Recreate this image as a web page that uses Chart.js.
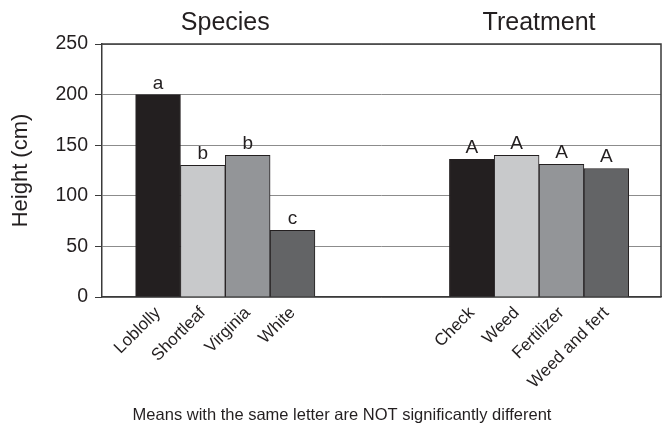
<!DOCTYPE html>
<html><head><meta charset="utf-8">
<script src="https://cdn.jsdelivr.net/npm/chart.js@4/dist/chart.umd.min.js"></script>
<style>html,body{margin:0;padding:0;background:#fff}</style>
</head><body>
<canvas id="c" width="665" height="433"></canvas>
<script>
// ---- data ----
const species = ['Loblolly', 'Shortleaf', 'Virginia', 'White'];
const speciesHeights = [200, 130, 140, 66];
const speciesLetters = ['a', 'b', 'b', 'c'];
const treatments = ['Check', 'Weed', 'Fertilizer', 'Weed and fert'];
const treatmentHeights = [136, 140, 131, 127];
const treatmentLetters = ['A', 'A', 'A', 'A'];
const groupTitles = ['Species', 'Treatment'];
const yTickValues = [0, 50, 100, 150, 200, 250];
const yTitle = 'Height (cm)';
const note = 'Means with the same letter are NOT significantly different';
const barColors = ['#231f20', '#c8c9cb', '#939598', '#636466'];

// ---- layout helpers ----
const GAP_SLOTS = 3;
const FONT = '"Liberation Sans", Arial, Helvetica, sans-serif';
const speciesPos = species.map((_, i) => i);
const treatPos = treatments.map((_, j) => species.length + GAP_SLOTS + j);
const positions = speciesPos.concat(treatPos);
const labels = species.concat(treatments);
const heights = speciesHeights.concat(treatmentHeights);
const letters = speciesLetters.concat(treatmentLetters);
const colors = species.map((_, i) => barColors[i]).concat(treatments.map((_, j) => barColors[j]));
const labelAt = {};
positions.forEach((p, i) => labelAt[p] = labels[i]);

const annot = {
  id: 'annot',
  afterDatasetsDraw(chart) {
    const ctx = chart.ctx;
    const a = chart.chartArea;
    const meta = chart.getDatasetMeta(0);
    ctx.save();
    // frame top + right
    ctx.strokeStyle = '#3a3a3a';
    ctx.lineWidth = 1.5;
    ctx.beginPath();
    ctx.moveTo(a.left, a.top);
    ctx.lineTo(a.right, a.top);
    ctx.lineTo(a.right, a.bottom);
    ctx.stroke();
    // letters
    ctx.fillStyle = '#231f20';
    ctx.font = '19px ' + FONT;
    ctx.textAlign = 'center';
    ctx.textBaseline = 'alphabetic';
    meta.data.forEach((bar, i) => {
      ctx.fillText(letters[i], bar.x, bar.y - 6);
    });
    // group titles
    ctx.font = '25px ' + FONT;
    ctx.textBaseline = 'middle';
    const groups = [[0, species.length], [species.length, labels.length]];
    groups.forEach((g, k) => {
      const xs = meta.data.slice(g[0], g[1]).map(b => b.x);
      const cx = (Math.min(...xs) + Math.max(...xs)) / 2;
      ctx.fillText(groupTitles[k], cx, 23);
    });
    // note
    ctx.font = '16.5px ' + FONT;
    ctx.fillText(note, 342, 415);
    ctx.restore();
  }
};

new Chart(document.getElementById('c'), {
  type: 'bar',
  data: {
    datasets: [{
      data: positions.map((p, i) => ({ x: p, y: heights[i] })),
      backgroundColor: colors,
      borderColor: '#231f20',
      borderWidth: 1,
      categoryPercentage: 1,
      barPercentage: 1
    }]
  },
  options: {
    responsive: false,
    animation: false,
    devicePixelRatio: 1,
    layout: { padding: { top: 44, right: 4, left: 0, bottom: 0 } },
    plugins: { legend: { display: false }, tooltip: { enabled: false }, title: { display: false } },
    scales: {
      x: {
        type: 'linear',
        offset: false,
        min: -1.25,
        max: 11.22,
        afterBuildTicks: s => { s.ticks = positions.map(v => ({ value: v })); },
        afterFit: s => { s.height = 136; },
        grid: { display: false, drawTicks: false, offset: false },
        border: { display: true, color: '#3a3a3a', width: 1.5 },
        ticks: {
          autoSkip: false, minRotation: 45, maxRotation: 45, padding: 6,
          color: '#231f20', font: { family: FONT, size: 17 },
          callback: v => labelAt[v] || ''
        }
      },
      y: {
        min: 0, max: 250,
        afterBuildTicks: s => { s.ticks = yTickValues.map(v => ({ value: v })); },
        afterFit: s => { s.width = 102; },
        grid: { color: '#8c8c8c', lineWidth: 1, tickLength: 7, tickColor: '#3a3a3a' },
        border: { color: '#3a3a3a', width: 1.5 },
        ticks: { color: '#231f20', font: { family: FONT, size: 19.5 }, padding: 7 },
        title: { display: true, text: yTitle, color: '#231f20', font: { family: FONT, size: 22 }, padding: { top: 8, bottom: 0 } }
      }
    }
  },
  plugins: [annot]
});
</script>
</body></html>
